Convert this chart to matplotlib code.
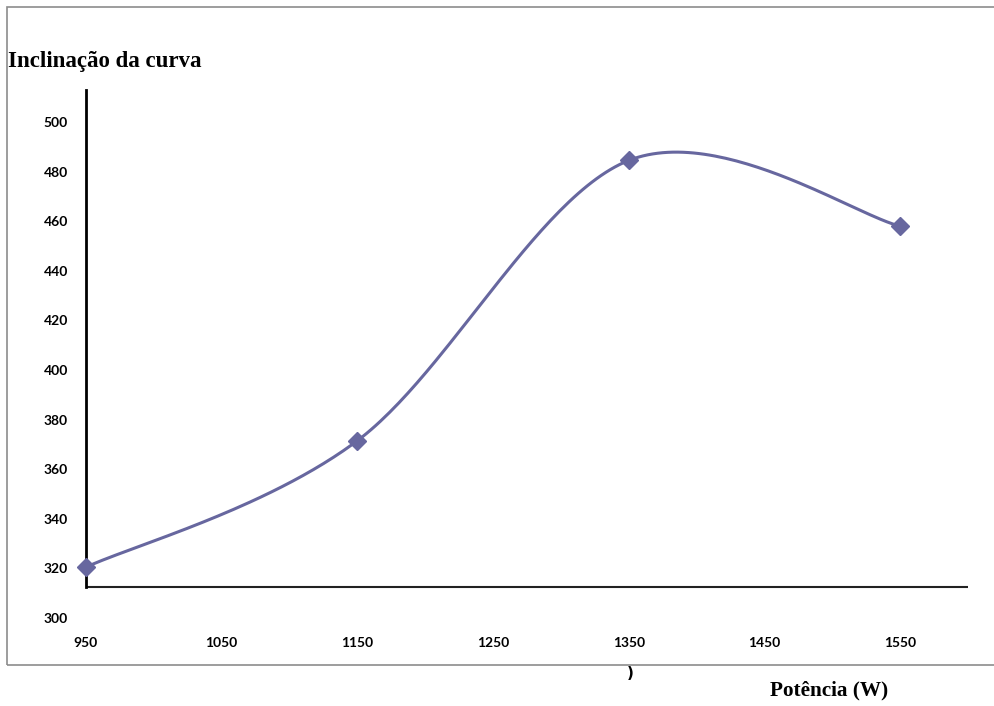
import numpy as np
import matplotlib
matplotlib.use("Agg")
import matplotlib.pyplot as plt
from matplotlib.patches import Rectangle

# Measured data
potencia = [950, 1150, 1350, 1550]
inclinacao = [320.5, 371.5, 484.5, 458.0]
y_ticks = [300, 320, 340, 360, 380, 400, 420, 440, 460, 480, 500]
x_ticks = [950, 1050, 1150, 1250, 1350, 1450, 1550]

LINE_COLOR = "#67679F"


def smooth_curve(xs, ys, n=60):
    """Catmull-Rom style smoothing through the points (Bezier segments)."""
    pts = np.column_stack([xs, ys]).astype(float)
    ext = np.vstack([pts[0], pts, pts[-1]])
    out = []
    t = np.linspace(0, 1, n)
    for i in range(len(pts) - 1):
        p0, p1, p2, p3 = ext[i], ext[i + 1], ext[i + 2], ext[i + 3]
        c1 = p1 + (p2 - p0) / 6.0
        c2 = p2 - (p3 - p1) / 6.0
        seg = ((1 - t) ** 3)[:, None] * p1 + (3 * t * (1 - t) ** 2)[:, None] * c1 \
            + (3 * t ** 2 * (1 - t))[:, None] * c2 + (t ** 3)[:, None] * p2
        out.append(seg if i == 0 else seg[1:])
    arr = np.vstack(out)
    return arr[:, 0], arr[:, 1]


fig = plt.figure(figsize=(9.94, 7.06), dpi=100)
W, H = 994, 706

# outer chart frame
fig.patches.append(Rectangle((7 / W, 1 - 665 / H), 1.2, (665 - 7) / H,
                             transform=fig.transFigure, fill=False,
                             edgecolor="#8c8c8c", linewidth=1.2))

ax = fig.add_axes([86 / W, 1 - 618 / H, 882 / W, (618 - 90) / H])
ax.set_xlim(950, 1600)
ax.set_ylim(300, 512.9)

x_axis_level = 312.5
for s in ["top", "right", "bottom"]:
    ax.spines[s].set_visible(False)
ax.spines["left"].set_linewidth(2)
ax.spines["left"].set_bounds(x_axis_level, 512.9)
ax.axhline(x_axis_level, color="#222222", linewidth=1.5, zorder=1)

tick_font = dict(family=["Lato", "DejaVu Sans"], weight="bold", size=10)
ax.set_yticks(y_ticks)
ax.set_yticklabels([str(v) for v in y_ticks], **tick_font)
ax.set_xticks(x_ticks)
ax.set_xticklabels([str(v) for v in x_ticks], **tick_font)
ax.tick_params(axis="y", length=0, pad=13)
ax.tick_params(axis="x", length=0, pad=14)

sx, sy = smooth_curve(potencia, inclinacao)
ax.plot(sx, sy, color=LINE_COLOR, linewidth=2.2, zorder=3, clip_on=False)
ax.plot(potencia, inclinacao, linestyle="none", marker="D", markersize=9.5,
        color=LINE_COLOR, zorder=4, clip_on=False)

fig.text(8 / W, 1 - 61 / H, "Inclinação da curva", ha="left", va="center",
         family=["Liberation Serif", "DejaVu Serif"], weight="bold", size=16.5)
fig.text(829 / W, 1 - 690 / H, "Potência (W)", ha="center", va="center",
         family=["Liberation Serif", "DejaVu Serif"], weight="bold", size=15.3)
fig.text(630 / W, 1 - 673 / H, ")", ha="center", va="center",
         family=["DejaVu Sans"], weight="bold", size=11)

fig.savefig("out.png", dpi=100)
